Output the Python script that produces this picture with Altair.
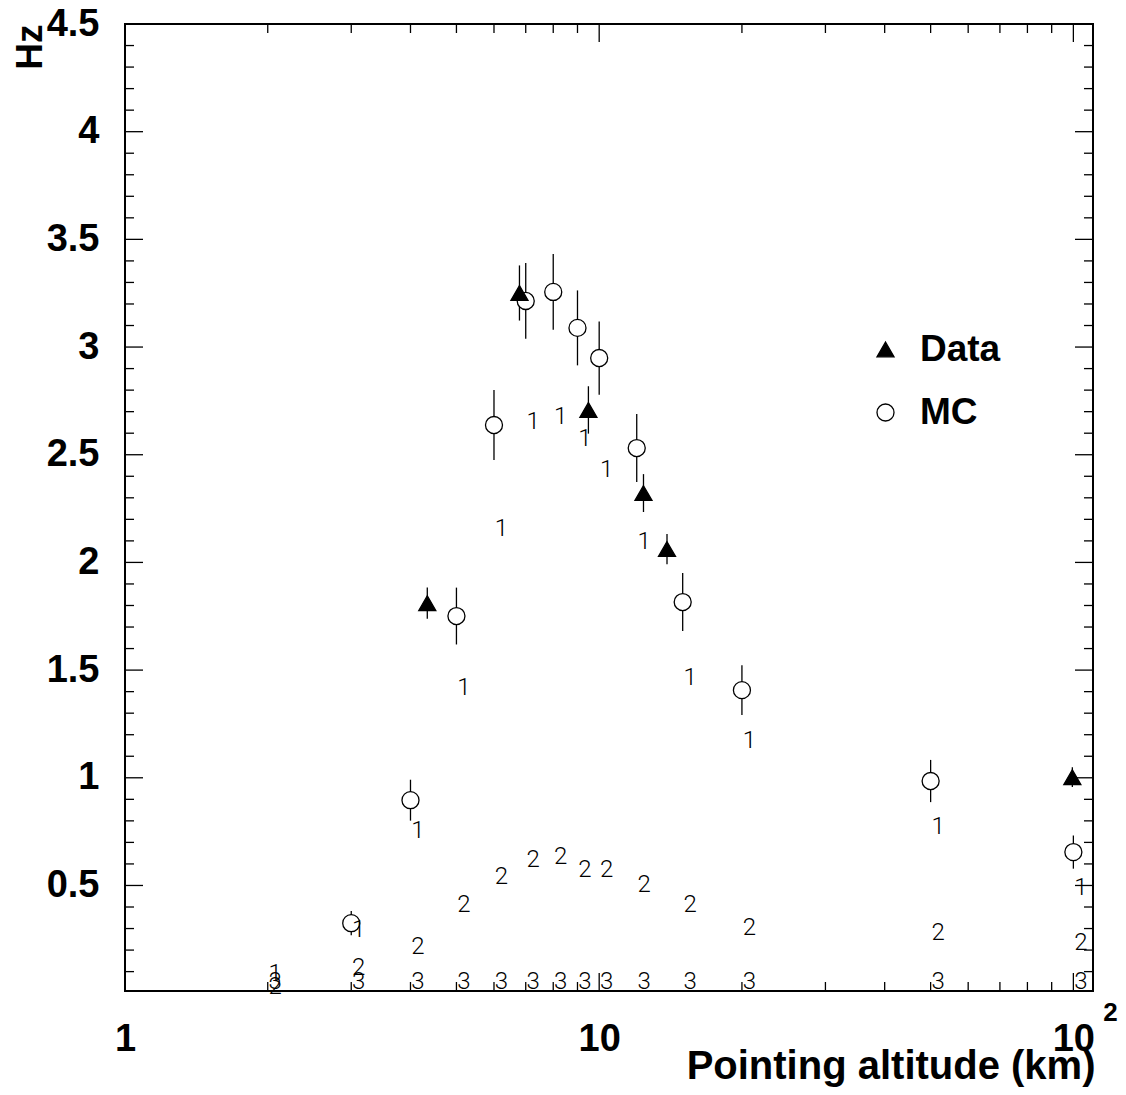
import altair as alt
import pandas as pd

# ---------------- data ----------------
# MC (open circles)
mc_x = [3, 4, 5, 6, 7, 8, 9, 10, 12, 15, 20, 50, 100]
mc_y = [0.325, 0.896, 1.751, 2.638, 3.214, 3.256, 3.089, 2.949, 2.531, 1.816, 1.407, 0.985, 0.655]
mc_err = [0.056, 0.095, 0.132, 0.163, 0.176, 0.176, 0.174, 0.170, 0.158, 0.135, 0.116, 0.098, 0.077]

# Data (filled triangles)
data_x = [4.34, 6.79, 9.49, 12.4, 13.9, 99.5]
data_y = [1.811, 3.251, 2.708, 2.322, 2.062, 1.003]
data_err = [0.072, 0.128, 0.110, 0.088, 0.070, 0.046]

# text-drawn histograms "1", "2", "3"
label_x = [2, 3, 4, 5, 6, 7, 8, 9, 10, 12, 15, 20, 50, 100]
label1_y = [0.09, 0.293, 0.752, 1.417, 2.155, 2.652, 2.675, 2.573, 2.429, 2.095, 1.463, 1.170, 0.771, 0.488]
label2_y = [0.028, 0.116, 0.214, 0.409, 0.539, 0.618, 0.632, 0.571, 0.571, 0.502, 0.409, 0.302, 0.279, 0.232]
label3_y = [0.05, 0.05, 0.05, 0.05, 0.05, 0.05, 0.05, 0.05, 0.05, 0.05, 0.05, 0.05, 0.05, 0.05]

# axis ticks
x_label_values = [1, 10, 100]
x_major_ticks = [10, 100]
x_minor_ticks = [2, 3, 4, 5, 6, 7, 8, 9, 20, 30, 40, 50, 60, 70, 80, 90]
y_label_values = [0.5, 1, 1.5, 2, 2.5, 3, 3.5, 4, 4.5]
y_major_ticks = [0.5, 1, 1.5, 2, 2.5, 3, 3.5, 4]
y_minor_ticks = [round(0.1 * i, 1) for i in range(1, 45) if i % 5 != 0]

series_names = ["Data", "MC"]

# ---------------- tables ----------------
pts = pd.DataFrame({
    "series": ["MC"] * len(mc_x) + ["Data"] * len(data_x),
    "x": mc_x + data_x,
    "y": mc_y + data_y,
    "err": mc_err + data_err,
})
pts["lo"] = pts["y"] - pts["err"]
pts["hi"] = pts["y"] + pts["err"]

labels = pd.DataFrame({
    "x": label_x * 3,
    "y": label1_y + label2_y + label3_y,
    "t": ["1"] * len(label_x) + ["2"] * len(label_x) + ["3"] * len(label_x),
})

W, H = 968, 967
FONT = "Liberation Sans"

x_scale = alt.Scale(type="log", domain=[1, 110], nice=False)
y_scale = alt.Scale(domain=[0.01, 4.5], nice=False, zero=False)

x_axis = alt.Axis(
    values=x_label_values,
    labelExpr="datum.value == 1 ? '1' : '10'",
    ticks=False, tickSize=0, domain=False, grid=False,
    labelFont=FONT, labelFontWeight="bold", labelFontSize=38,
    labelPadding=29, labelBaseline="top", labelFlush=False, labelOverlap=False,
    labelColor="black",
    title="Pointing altitude (km)", titleFont=FONT, titleFontSize=40,
    titleFontWeight="bold", titleColor="black",
    titleX=970, titleY=87, titleAlign="right", titleBaseline="alphabetic",
)
y_axis = alt.Axis(
    values=y_label_values, format="~g",
    ticks=False, tickSize=0, domain=False, grid=False,
    labelFont=FONT, labelFontWeight="bold", labelFontSize=38,
    labelPadding=26, labelFlush=False, labelOverlap=False, labelColor="black",
    title="Hz", titleFont=FONT, titleFontSize=37, titleFontWeight="bold",
    titleColor="black", titleAngle=270, titleX=-84, titleY=0,
    titleAlign="right", titleBaseline="alphabetic",
)

X = lambda f: alt.X(f, type="quantitative", scale=x_scale, axis=x_axis)
Y = lambda f: alt.Y(f, type="quantitative", scale=y_scale, axis=y_axis)

err_layer = alt.Chart(pts).mark_rule(color="black", strokeWidth=1.3).encode(
    x=X("x"), y=Y("lo"), y2="hi"
)

legend = alt.Legend(
    orient="none", legendX=742, legendY=307, title=None,
    labelFont=FONT, labelFontSize=37, labelFontWeight="bold", labelColor="black",
    symbolSize=290, symbolStrokeWidth=1.3,
    labelOffset=16, rowPadding=25, padding=0,
)
point_layer = alt.Chart(pts).mark_point(
    filled=True, size=290, strokeWidth=1.3, opacity=1
).encode(
    x=X("x"), y=Y("y"),
    shape=alt.Shape("series:N", scale=alt.Scale(domain=series_names, range=["triangle-up", "circle"]), legend=legend),
    fill=alt.Fill("series:N", scale=alt.Scale(domain=series_names, range=["black", "white"]), legend=legend),
    stroke=alt.Stroke("series:N", scale=alt.Scale(domain=series_names, range=["black", "black"]), legend=legend),
)

text_layer = alt.Chart(labels).mark_text(
    font="Roboto", fontWeight=300, fontSize=24, dx=7.5,
    align="center", baseline="middle", color="black"
).encode(x=X("x"), y=Y("y"), text="t:N")

def xticks(vals, y0, y1):
    return alt.Chart(pd.DataFrame({"v": vals})).mark_rule(color="black", strokeWidth=1.3).encode(
        x=X("v"), y=alt.value(y0), y2=alt.value(y1)
    )

def yticks(vals, x0, x1):
    return alt.Chart(pd.DataFrame({"v": vals})).mark_rule(color="black", strokeWidth=1.3).encode(
        y=Y("v"), x=alt.value(x0), x2=alt.value(x1)
    )

tick_layers = [
    xticks(x_minor_ticks, H, H - 9), xticks(x_major_ticks, H, H - 18),
    xticks(x_minor_ticks, 0, 9), xticks(x_major_ticks, 0, 18),
    yticks(y_minor_ticks, 0, 9), yticks(y_major_ticks, 0, 18),
    yticks(y_minor_ticks, W, W - 9), yticks(y_major_ticks, W, W - 18),
]

sup_layer = alt.Chart(pd.DataFrame({"x": [100], "t": ["2"]})).mark_text(
    font=FONT, fontWeight="bold", fontSize=26, dx=37, align="center",
    baseline="middle", color="black"
).encode(x=X("x"), y=alt.value(H + 22), text="t:N")

chart = alt.layer(
    err_layer, *tick_layers, point_layer, text_layer, sup_layer
).properties(
    width=W, height=H,
    padding={"left": 117, "top": 16, "right": 25, "bottom": 96},
    autosize=alt.AutoSizeParams(type="none"),
    background="white",
).configure_view(stroke="black", strokeWidth=2)

chart.save("out.html", embed_options={"renderer": "svg", "actions": False})
